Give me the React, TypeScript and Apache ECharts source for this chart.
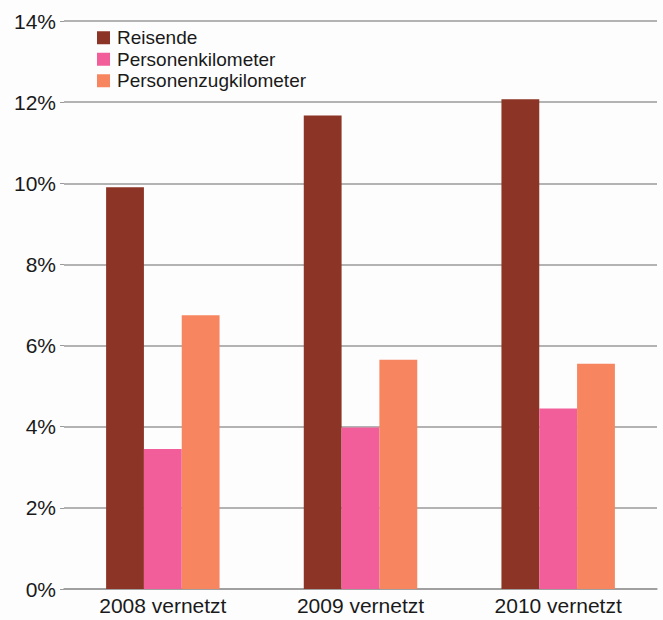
import React, { useEffect, useRef } from "react";
import * as echarts from "echarts";

const categories = ["2008 vernetzt", "2009 vernetzt", "2010 vernetzt"];
const seriesNames = ["Reisende", "Personenkilometer", "Personenzugkilometer"];
const reisende = [9.9, 11.67, 12.07];
const personenkilometer = [3.45, 3.98, 4.45];
const personenzugkilometer = [6.75, 5.65, 5.55];
const colors = ["#8c3526", "#f15e9a", "#f7855f"];

export default function App() {
  const ref = useRef<HTMLDivElement>(null);
  useEffect(() => {
    if (!ref.current) return;
    const chart = echarts.init(ref.current, undefined, { renderer: "svg" });
    const font = "Liberation Sans, Arial, sans-serif";
    const values = [reisende, personenkilometer, personenzugkilometer];
    chart.setOption({
      animation: false,
      backgroundColor: "#fdfdfd",
      grid: { left: 64, right: 6, top: 21, bottom: 31, containLabel: false },
      legend: {
        orient: "vertical",
        left: 97,
        top: 27,
        padding: 0,
        itemWidth: 13,
        itemHeight: 13,
        itemGap: 0,
        icon: "rect",
        textStyle: {
          fontFamily: font,
          fontSize: 19,
          lineHeight: 21.5,
          color: "#1a1a1a",
          padding: [0, 0, 0, 2],
        },
        data: seriesNames,
      },
      xAxis: {
        type: "category",
        data: categories,
        axisLine: { show: true, lineStyle: { color: "#9a9a9a", width: 1.5 } },
        axisTick: { show: false },
        axisLabel: { fontFamily: font, fontSize: 21, color: "#1a1a1a", margin: 6 },
      },
      yAxis: {
        type: "value",
        min: 0,
        max: 14,
        interval: 2,
        axisLine: { show: false },
        axisTick: { show: true, length: 4, lineStyle: { color: "#9a9a9a" } },
        splitLine: { lineStyle: { color: "#9a9a9a", width: 1.5 } },
        axisLabel: {
          fontFamily: font,
          fontSize: 21,
          color: "#1a1a1a",
          margin: 8,
          formatter: (v: number) => v + "%",
        },
      },
      series: seriesNames.map((name, i) => ({
        name,
        type: "bar",
        data: values[i],
        barGap: "0%",
        barCategoryGap: "42.6%",
        itemStyle: { color: colors[i] },
      })),
    });
    return () => chart.dispose();
  }, []);
  return (
    <div
      ref={ref}
      style={{ position: "absolute", left: 0, top: 0, width: 663, height: 620 }}
    />
  );
}
